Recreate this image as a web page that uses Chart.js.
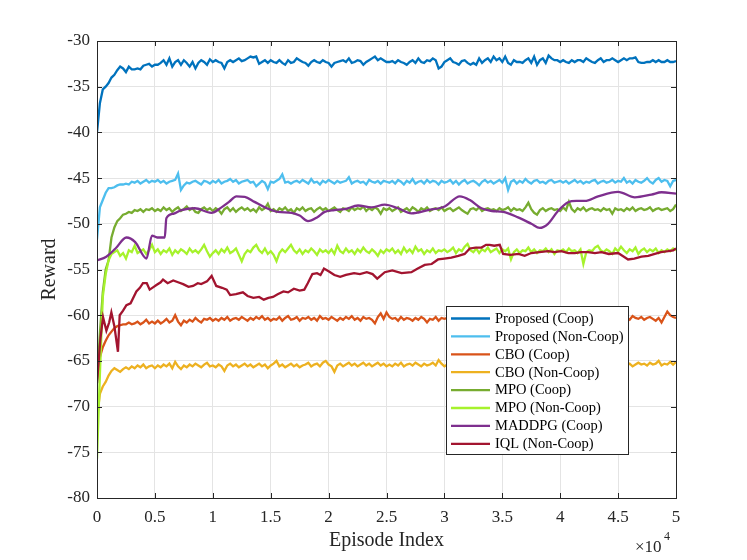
<!DOCTYPE html>
<html>
<head>
<meta charset="utf-8">
<script src="https://cdn.jsdelivr.net/npm/chart.js@4.4.1/dist/chart.umd.min.js"></script>
<style>
  html, body { margin: 0; padding: 0; background: #fff; }
  #wrap { position: relative; width: 747px; height: 560px; }
</style>
</head>
<body>
<div id="wrap"><canvas id="reward-chart"></canvas></div>
<script>
// episode grid shared by the noisy curves (every 250 episodes)
const episodes = [
  0,250,500,750,1000,1250,1500,1750,2000,2250,2500,2750,3000,3250,3500,3750,4000,4250,4500,4750,5000,
  5250,5500,5750,6000,6250,6500,6750,7000,7250,7500,7750,8000,8250,8500,8750,9000,9250,9500,9750,10000,
  10250,10500,10750,11000,11250,11500,11750,12000,12250,12500,12750,13000,13250,13500,13750,14000,14250,14500,14750,15000,
  15250,15500,15750,16000,16250,16500,16750,17000,17250,17500,17750,18000,18250,18500,18750,19000,19250,19500,19750,20000,
  20250,20500,20750,21000,21250,21500,21750,22000,22250,22500,22750,23000,23250,23500,23750,24000,24250,24500,24750,25000,
  25250,25500,25750,26000,26250,26500,26750,27000,27250,27500,27750,28000,28250,28500,28750,29000,29250,29500,29750,30000,
  30250,30500,30750,31000,31250,31500,31750,32000,32250,32500,32750,33000,33250,33500,33750,34000,34250,34500,34750,35000,
  35250,35500,35750,36000,36250,36500,36750,37000,37250,37500,37750,38000,38250,38500,38750,39000,39250,39500,39750,40000,
  40250,40500,40750,41000,41250,41500,41750,42000,42250,42500,42750,43000,43250,43500,43750,44000,44250,44500,44750,45000,
  45250,45500,45750,46000,46250,46500,46750,47000,47250,47500,47750,48000,48250,48500,48750,49000,49250,49500,49750,50000
];

const proposedCoop = [
  -40.0,-36.8,-35.3,-35.0,-34.6,-34.0,-33.7,-33.2,-32.8,-33.0,-33.4,-32.8,-33.1,-33.1,-33.0,-33.1,-32.7,-32.6,-32.5,-32.8,-32.6,
  -32.6,-32.4,-32.1,-32.6,-31.9,-32.8,-32.3,-32.1,-32.6,-32.1,-32.4,-32.8,-32.3,-33.0,-32.4,-32.1,-32.3,-32.6,-32.0,-32.3,
  -32.1,-32.3,-32.4,-33.0,-32.3,-32.1,-32.3,-32.1,-31.9,-32.2,-32.1,-31.9,-31.7,-31.8,-31.7,-32.5,-32.3,-32.1,-32.4,-32.1,
  -32.3,-32.4,-32.1,-32.4,-32.6,-32.1,-32.4,-32.3,-31.9,-32.1,-32.3,-32.4,-32.7,-32.3,-32.1,-32.3,-32.4,-32.1,-32.3,-32.4,
  -32.8,-32.4,-32.3,-32.2,-32.1,-32.3,-31.9,-32.4,-32.3,-32.1,-32.2,-32.6,-32.3,-32.1,-31.9,-31.7,-32.1,-31.9,-32.1,-32.3,
  -32.3,-32.2,-32.4,-32.1,-32.3,-32.4,-32.6,-32.3,-32.1,-32.4,-31.9,-32.3,-32.4,-32.1,-32.2,-31.9,-32.1,-33.0,-32.8,-32.3,
  -32.1,-31.9,-32.3,-32.4,-32.6,-32.2,-32.1,-32.4,-32.6,-32.4,-32.6,-31.9,-32.4,-32.1,-31.9,-32.3,-31.7,-32.1,-31.9,-32.3,
  -31.7,-32.4,-32.6,-32.1,-32.3,-32.3,-32.4,-32.1,-31.9,-32.4,-31.7,-32.6,-32.1,-31.9,-32.4,-31.6,-31.9,-32.1,-32.1,-32.3,
  -32.1,-32.3,-32.4,-32.1,-32.3,-32.1,-32.1,-32.3,-31.9,-32.1,-32.3,-32.4,-32.1,-31.9,-32.3,-32.1,-32.1,-31.9,-32.1,-32.3,
  -32.1,-31.9,-32.1,-31.9,-31.9,-31.8,-32.3,-32.4,-32.4,-32.3,-32.3,-32.1,-32.3,-32.1,-32.3,-32.3,-32.1,-32.3,-32.3,-32.2
];

const proposedNonCoop = [
  -51.7,-48.2,-47.4,-46.6,-46.1,-46.1,-46.0,-45.8,-45.7,-45.7,-45.6,-45.7,-45.4,-45.5,-45.3,-45.6,-45.4,-45.2,-45.5,-45.3,-45.4,
  -45.2,-45.5,-45.3,-45.6,-45.4,-45.3,-45.2,-44.5,-46.3,-45.8,-45.5,-45.6,-45.4,-45.3,-45.5,-45.7,-45.3,-45.4,-45.6,-45.3,
  -45.5,-45.2,-45.6,-45.4,-45.3,-45.1,-45.4,-45.2,-45.6,-45.4,-45.3,-45.2,-45.5,-45.4,-45.9,-45.6,-45.3,-45.5,-46.2,-45.4,
  -45.5,-45.3,-45.1,-44.6,-45.5,-45.4,-45.6,-45.4,-45.3,-45.5,-45.2,-45.4,-45.6,-45.1,-45.5,-45.4,-45.7,-45.3,-45.5,-45.2,
  -45.4,-45.6,-45.3,-45.5,-45.4,-45.3,-44.9,-45.6,-45.4,-45.3,-45.5,-45.4,-45.7,-45.2,-45.4,-45.5,-45.3,-45.6,-45.3,-45.4,
  -45.5,-45.3,-45.6,-45.2,-45.4,-45.7,-45.3,-45.5,-45.1,-45.6,-45.4,-45.3,-45.6,-45.2,-45.5,-45.3,-45.4,-45.7,-45.3,-45.5,
  -45.4,-45.2,-45.6,-45.3,-45.7,-45.4,-45.2,-45.6,-45.4,-45.3,-45.5,-45.8,-45.4,-45.2,-45.5,-45.3,-45.6,-45.4,-45.2,-45.5,
  -45.0,-46.3,-45.4,-45.2,-45.6,-45.3,-45.5,-45.1,-45.4,-45.6,-45.3,-45.2,-45.5,-45.4,-45.6,-45.3,-45.2,-45.5,-45.4,-45.3,
  -45.5,-45.3,-45.6,-45.4,-45.2,-45.5,-45.3,-45.6,-45.4,-45.5,-45.3,-45.2,-45.6,-45.4,-45.3,-45.5,-45.4,-45.2,-45.5,-45.3,
  -45.4,-45.0,-45.5,-45.3,-45.6,-45.2,-45.4,-45.5,-45.3,-45.0,-45.4,-45.6,-45.2,-45.0,-45.4,-45.2,-45.3,-45.9,-45.3,-45.2
];

const cboCoop = [
  -67.0,-64.6,-63.5,-62.8,-62.2,-61.8,-61.4,-61.2,-61.1,-61.0,-61.0,-60.8,-61.0,-60.9,-60.7,-61.0,-60.8,-60.5,-60.9,-60.7,-60.9,
  -60.6,-60.9,-60.7,-60.4,-60.8,-60.6,-60.0,-60.7,-61.1,-60.6,-60.8,-60.5,-60.7,-60.3,-60.6,-60.8,-60.4,-60.5,-60.3,-60.6,
  -60.4,-60.6,-60.3,-60.5,-60.2,-60.6,-60.4,-60.3,-60.5,-60.2,-60.4,-60.6,-60.3,-60.5,-60.2,-60.4,-60.1,-60.5,-60.3,-60.6,
  -60.4,-60.5,-60.2,-60.6,-60.3,-60.1,-60.5,-60.4,-60.2,-60.6,-60.3,-60.4,-60.2,-60.5,-60.3,-60.6,-60.1,-60.4,-60.3,-60.5,
  -60.2,-60.4,-60.6,-60.3,-60.5,-60.2,-60.4,-60.1,-60.5,-60.3,-60.6,-60.2,-60.4,-60.3,-60.5,-60.9,-60.2,-59.8,-60.4,-59.7,
  -60.2,-60.4,-60.3,-60.6,-60.2,-60.5,-60.3,-60.4,-60.6,-60.3,-60.5,-60.2,-60.4,-60.8,-60.4,-60.5,-60.2,-60.6,-60.3,-60.4,
  -60.3,-60.5,-60.2,-60.4,-60.3,-60.6,-60.2,-60.4,-60.5,-60.3,-60.2,-60.4,-60.6,-60.3,-60.4,-60.2,-60.5,-60.3,-60.4,-60.2,
  -60.4,-60.3,-60.5,-60.2,-60.4,-60.6,-60.3,-60.4,-60.2,-60.5,-60.3,-60.4,-60.2,-60.5,-60.3,-60.4,-60.6,-60.2,-60.4,-60.3,
  -60.5,-60.2,-60.4,-60.3,-60.5,-60.2,-60.4,-60.6,-60.3,-60.4,-60.2,-60.5,-60.3,-60.4,-60.2,-60.5,-60.3,-60.4,-60.2,-60.3,
  -60.2,-60.4,-60.3,-60.5,-60.1,-60.3,-60.4,-60.2,-60.5,-60.3,-60.2,-60.4,-60.6,-60.3,-60.8,-60.2,-59.6,-60.0,-60.2,-60.3
];

const cboNonCoop = [
  -71.3,-68.6,-67.8,-67.3,-66.6,-66.1,-65.8,-66.0,-66.2,-65.9,-65.7,-65.9,-65.6,-65.8,-65.5,-65.7,-65.4,-65.8,-65.6,-65.5,-65.8,
  -65.5,-65.7,-65.4,-65.6,-65.3,-65.8,-65.1,-65.6,-65.9,-65.5,-65.7,-65.4,-65.6,-65.3,-65.5,-65.7,-65.4,-65.2,-65.6,-65.5,
  -65.7,-65.4,-65.6,-66.1,-65.5,-65.3,-65.6,-65.4,-65.7,-65.5,-65.3,-65.6,-65.4,-65.7,-65.5,-65.3,-65.6,-65.4,-65.8,-65.5,
  -65.3,-65.0,-65.6,-65.4,-65.7,-65.5,-65.3,-65.6,-65.4,-65.7,-65.5,-65.4,-65.2,-65.6,-65.4,-65.3,-65.6,-65.2,-65.0,-65.4,
  -65.6,-66.2,-65.5,-65.3,-65.6,-65.4,-65.2,-65.5,-65.3,-65.6,-65.4,-65.2,-65.5,-65.3,-65.6,-65.4,-65.2,-65.5,-65.3,-65.6,
  -65.4,-65.6,-65.3,-65.5,-65.2,-65.6,-65.4,-65.3,-65.5,-65.2,-65.4,-65.6,-65.3,-65.5,-65.4,-65.2,-65.5,-64.9,-65.3,-65.6,
  -65.4,-65.2,-65.5,-65.3,-65.6,-65.4,-65.3,-65.5,-65.2,-65.4,-65.6,-65.3,-65.5,-65.4,-65.2,-65.5,-65.3,-65.6,-65.4,-65.3,
  -65.5,-65.2,-65.4,-65.6,-65.3,-65.5,-65.4,-65.2,-65.5,-65.3,-65.6,-65.4,-65.3,-65.5,-65.2,-65.4,-65.6,-65.3,-65.5,-65.4,
  -65.2,-65.5,-65.3,-65.6,-65.4,-65.3,-65.5,-65.2,-65.4,-65.6,-65.3,-65.5,-65.4,-65.2,-65.5,-65.3,-65.6,-65.4,-65.3,-65.5,
  -65.4,-65.2,-65.5,-65.3,-65.6,-65.4,-65.2,-65.4,-65.3,-65.5,-65.2,-65.4,-65.3,-65.0,-65.5,-65.3,-65.4,-65.1,-65.4,-65.1
];

const mpoCoop = [
  -67.5,-62.0,-57.5,-55.0,-54.0,-51.5,-50.4,-49.7,-49.4,-49.0,-48.9,-48.7,-48.8,-48.5,-48.6,-48.4,-48.7,-48.4,-48.5,-48.3,-48.6,
  -48.4,-48.6,-48.2,-48.5,-48.3,-48.7,-48.4,-48.2,-48.6,-48.4,-48.1,-48.5,-48.3,-48.7,-48.8,-48.4,-48.2,-48.5,-48.3,-48.6,
  -48.3,-48.5,-48.9,-48.4,-48.2,-48.6,-48.3,-48.7,-48.4,-48.2,-48.5,-48.3,-48.6,-48.4,-48.7,-48.2,-48.5,-48.3,-47.8,-48.6,
  -48.4,-48.7,-48.3,-48.5,-48.2,-48.6,-48.4,-48.8,-48.3,-48.5,-48.2,-48.6,-48.4,-48.3,-48.7,-48.4,-48.2,-48.5,-48.3,-48.6,
  -48.4,-48.2,-48.5,-48.7,-48.3,-48.4,-48.6,-48.2,-48.5,-48.3,-48.4,-48.1,-48.6,-48.3,-48.5,-48.2,-48.4,-48.9,-48.3,-48.5,
  -48.3,-48.6,-48.4,-48.2,-48.7,-48.5,-48.3,-48.6,-48.2,-48.4,-48.7,-48.3,-48.5,-48.2,-48.6,-48.4,-48.3,-48.5,-48.2,-48.6,
  -48.4,-48.3,-48.6,-48.4,-48.2,-48.5,-48.7,-48.9,-48.4,-48.3,-48.5,-48.2,-48.6,-48.4,-48.3,-48.5,-48.4,-48.6,-48.3,-48.5,
  -48.4,-48.2,-48.6,-48.3,-48.5,-48.4,-48.6,-48.2,-47.7,-48.4,-48.8,-49.0,-48.5,-48.3,-48.6,-48.4,-48.3,-48.5,-48.4,-48.6,
  -48.2,-48.5,-47.6,-48.4,-48.7,-48.3,-48.5,-48.2,-48.6,-48.4,-48.3,-48.5,-48.4,-48.6,-48.3,-48.5,-48.4,-48.9,-48.3,-48.5,
  -48.4,-48.6,-48.3,-48.5,-48.2,-48.6,-48.4,-48.3,-48.5,-48.4,-48.2,-48.6,-48.4,-48.3,-48.5,-48.4,-48.3,-48.6,-48.4,-47.9
];

const mpoNonCoop = [
  -75.7,-66.5,-58.0,-55.5,-54.0,-53.3,-53.1,-52.9,-53.5,-53.2,-53.8,-52.9,-53.1,-52.4,-53.2,-53.0,-52.8,-53.3,-52.9,-52.3,-53.1,
  -52.8,-53.3,-52.9,-53.1,-52.7,-53.4,-52.9,-53.2,-52.8,-53.0,-53.3,-52.7,-53.1,-52.9,-53.2,-52.8,-52.3,-53.0,-53.6,-53.2,
  -52.9,-53.3,-52.8,-53.1,-52.6,-53.2,-53.0,-52.7,-53.4,-54.1,-53.3,-52.9,-53.1,-52.6,-52.3,-52.9,-53.2,-52.7,-53.3,-53.0,
  -53.4,-54.1,-53.2,-52.8,-53.1,-52.7,-52.3,-52.9,-53.2,-52.8,-53.3,-52.9,-53.1,-52.7,-53.0,-53.4,-52.8,-53.1,-52.9,-53.2,
  -52.8,-53.3,-52.4,-53.0,-53.2,-52.7,-53.1,-52.9,-53.3,-52.8,-53.1,-52.6,-53.0,-53.2,-52.8,-53.1,-53.5,-52.9,-53.2,-52.8,
  -53.0,-52.7,-53.2,-52.9,-53.3,-52.6,-53.1,-52.8,-53.2,-52.5,-53.0,-52.8,-53.3,-52.9,-53.1,-52.7,-53.2,-52.9,-53.0,-52.8,
  -53.1,-52.9,-52.6,-53.2,-52.8,-53.0,-52.5,-52.2,-52.9,-53.1,-52.7,-53.2,-52.8,-53.0,-52.6,-53.1,-52.9,-52.7,-53.2,-52.8,
  -53.0,-52.7,-53.9,-53.1,-52.8,-53.2,-52.9,-53.0,-52.6,-53.1,-52.8,-53.2,-52.9,-53.0,-52.7,-53.1,-52.8,-53.3,-52.9,-53.0,
  -52.8,-53.1,-52.7,-53.0,-52.9,-53.2,-52.8,-54.4,-53.1,-52.9,-53.0,-52.6,-52.4,-52.9,-53.1,-52.8,-53.0,-53.3,-52.7,-53.0,
  -52.5,-52.9,-53.2,-52.8,-53.0,-52.6,-53.3,-52.9,-52.7,-53.1,-52.8,-53.0,-52.7,-53.2,-52.9,-53.1,-52.8,-53.0,-52.7,-52.9
];

// MADDPG is a smooth curve, read at its turning points
const maddpgEpisodes = [
  0,800,1600,2540,3300,4270,4750,5200,5850,5990,6600,7290,8440,9880,10750,11400,12040,12760,13600,14500,
  15640,16800,17500,18220,19000,19660,20500,21390,22540,23700,24850,26000,27150,28590,30030,31330,32200,33200,34100,35070,
  36360,37510,38230,38950,39810,40680,41400,42120,43270,45000,46440,47880,48750,50000
];
const maddpgCoop = [
  -54.0,-53.6,-52.7,-51.5,-52.0,-53.8,-51.3,-51.5,-51.5,-49.4,-48.9,-48.5,-48.3,-48.8,-48.2,-47.6,-47.0,-47.05,-47.6,-48.2,
  -48.7,-48.8,-49.1,-49.7,-49.3,-48.7,-48.5,-48.4,-48.0,-48.2,-47.9,-48.3,-48.85,-48.5,-48.1,-47.0,-47.4,-48.3,-48.6,-48.7,
  -49.3,-50.0,-50.45,-50.0,-48.6,-47.65,-47.5,-47.5,-47.0,-46.5,-47.1,-46.8,-46.55,-46.7
];

// IQL moves in small steps, read at each step
const iqlEpisodes = [
  0,300,520,810,1050,1240,1500,1810,1960,2250,2540,2900,3400,3700,3970,4300,4550,4900,5130,5500,
  5700,6100,6580,7000,7440,7900,8300,8700,9000,9500,9900,10300,10800,11200,11500,12000,12600,13000,13500,14000,
  14400,14800,15200,15600,16100,16500,17000,17500,17900,18200,18600,19000,19300,19600,20000,20500,21000,21500,22200,22700,
  23300,23800,24200,24850,25500,26300,27150,27700,28300,28900,29450,30000,30600,31200,31750,32190,32700,33200,33600,33900,
  34300,34780,35070,35700,36400,36930,37500,38200,38950,39500,40100,40700,41260,41800,42410,43000,43560,44200,45000,45500,
  45860,46400,47020,47600,48170,48700,49320,49760,50000
];
const iqlNonCoop = [
  -67.4,-62.5,-60.2,-61.7,-60.8,-59.7,-61.2,-64.0,-60.0,-59.5,-58.9,-58.7,-57.4,-57.0,-56.5,-56.5,-57.2,-56.9,-56.7,-56.4,
  -56.1,-56.5,-56.2,-56.4,-56.6,-56.9,-56.8,-56.5,-56.6,-56.3,-55.7,-56.8,-57.0,-57.2,-57.8,-57.7,-57.5,-57.9,-58.1,-58.0,
  -58.3,-58.1,-58.0,-57.7,-57.4,-57.5,-57.1,-57.3,-57.2,-56.5,-55.5,-55.4,-55.6,-54.9,-55.2,-55.6,-55.8,-55.6,-55.4,-55.5,
  -55.3,-55.5,-56.0,-55.3,-55.1,-55.4,-55.3,-54.9,-54.5,-54.4,-53.9,-53.8,-53.7,-53.5,-53.3,-52.7,-52.6,-52.6,-52.3,-52.3,
  -52.4,-52.3,-53.3,-53.4,-53.3,-53.5,-53.2,-53.1,-53.0,-53.1,-53.0,-53.2,-53.2,-53.1,-53.1,-53.2,-53.1,-53.3,-53.2,-53.6,
  -53.9,-53.8,-53.6,-53.5,-53.3,-53.1,-53.0,-52.9,-52.7
];

const xTicks = [0, 5000, 10000, 15000, 20000, 25000, 30000, 35000, 40000, 45000, 50000];
const yTicks = [-80, -75, -70, -65, -60, -55, -50, -45, -40, -35, -30];

const seriesNames = [
  'Proposed (Coop)', 'Proposed (Non-Coop)', 'CBO (Coop)', 'CBO (Non-Coop)',
  'MPO (Coop)', 'MPO (Non-Coop)', 'MADDPG (Coop)', 'IQL (Non-Coop)'
];
const seriesColors = ['#0072BD', '#4DBEEE', '#D95319', '#EDB120', '#77AC30', '#A6F22C', '#7E2F8E', '#A2142F'];

const AXIS_COLOR = '#262626';
const SERIF = '"Liberation Serif", "Times New Roman", serif';

function pairs(xs, ys) {
  return xs.map((x, i) => ({ x, y: ys[i] }));
}

const seriesData = [
  pairs(episodes, proposedCoop),
  pairs(episodes, proposedNonCoop),
  pairs(episodes, cboCoop),
  pairs(episodes, cboNonCoop),
  pairs(episodes, mpoCoop),
  pairs(episodes, mpoNonCoop),
  pairs(maddpgEpisodes, maddpgCoop),
  pairs(iqlEpisodes, iqlNonCoop),
];

// box round the axes with small inward ticks, like the MATLAB figure
const axesBox = {
  id: 'axesBox',
  afterDatasetsDraw(chart) {
    const { ctx, chartArea: a, scales: { x, y } } = chart;
    ctx.save();
    ctx.strokeStyle = AXIS_COLOR;
    ctx.lineWidth = 1;
    ctx.beginPath();
    for (const v of xTicks) {
      const px = Math.round(x.getPixelForValue(v)) + 0.5;
      ctx.moveTo(px, a.bottom); ctx.lineTo(px, a.bottom - 5);
      ctx.moveTo(px, a.top); ctx.lineTo(px, a.top + 5);
    }
    for (const v of yTicks) {
      const py = Math.round(y.getPixelForValue(v)) + 0.5;
      ctx.moveTo(a.left, py); ctx.lineTo(a.left + 5, py);
      ctx.moveTo(a.right, py); ctx.lineTo(a.right - 5, py);
    }
    ctx.stroke();
    ctx.strokeRect(Math.round(a.left) + 0.5, Math.round(a.top) + 0.5,
      Math.round(a.width), Math.round(a.height));
    ctx.restore();
  },
};

// legend box inside the axes, plus the x10^4 exponent label
const boxLegend = {
  id: 'boxLegend',
  afterDraw(chart) {
    const { ctx, chartArea: a } = chart;
    const left = a.right - 230, top = a.top + 265, w = 182, h = 148;
    ctx.save();
    ctx.fillStyle = '#fff';
    ctx.fillRect(left, top, w, h);
    ctx.strokeStyle = AXIS_COLOR;
    ctx.lineWidth = 1;
    ctx.strokeRect(left + 0.5, top + 0.5, w, h);
    ctx.font = `14.5px ${SERIF}`;
    ctx.textBaseline = 'middle';
    ctx.textAlign = 'left';
    chart.data.datasets.forEach((ds, i) => {
      const ry = top + 12.5 + i * 17.9;
      ctx.strokeStyle = ds.borderColor;
      ctx.lineWidth = 2.3;
      ctx.beginPath();
      ctx.moveTo(left + 5, ry); ctx.lineTo(left + 44, ry);
      ctx.stroke();
      ctx.fillStyle = '#000';
      ctx.fillText(ds.label, left + 49, ry + 0.5);
    });

    ctx.fillStyle = AXIS_COLOR;
    ctx.font = `17px ${SERIF}`;
    ctx.textAlign = 'left';
    ctx.textBaseline = 'alphabetic';
    ctx.fillText('×10', a.right - 41, 552);
    ctx.font = `12px ${SERIF}`;
    ctx.fillText('4', a.right - 12, 540);
    ctx.restore();
  },
};

new Chart(document.getElementById('reward-chart'), {
  type: 'line',
  data: {
    datasets: seriesNames.map((name, i) => ({
      label: name,
      data: seriesData[i],
      borderColor: seriesColors[i],
      backgroundColor: seriesColors[i],
      borderWidth: 2.3,
      pointRadius: 0,
      tension: 0,
      cubicInterpolationMode: i === 6 ? 'monotone' : 'default',
      fill: false,
      order: seriesNames.length - i,
    })),
  },
  options: {
    responsive: true,
    maintainAspectRatio: false,
    animation: false,
    layout: { padding: { top: 41, right: 71, left: 0, bottom: 0 } },
    plugins: {
      legend: { display: false },
      tooltip: { enabled: false },
    },
    scales: {
      x: {
        type: 'linear',
        min: 0,
        max: 50000,
        afterFit: (s) => { s.height = 62; },
        afterBuildTicks: (s) => { s.ticks = xTicks.map(v => ({ value: v })); },
        ticks: {
          padding: 9,
          maxRotation: 0,
          autoSkip: false,
          color: AXIS_COLOR,
          font: { family: SERIF, size: 17 },
          callback: (v) => String(v / 10000),
        },
        grid: { color: '#e4e4e4', drawTicks: false },
        border: { display: false },
        title: {
          display: true,
          text: 'Episode Index',
          color: AXIS_COLOR,
          font: { family: SERIF, size: 20 },
          padding: { top: 0, bottom: 7 },
        },
      },
      y: {
        min: -80,
        max: -30,
        afterFit: (s) => { s.width = 97; },
        afterBuildTicks: (s) => { s.ticks = yTicks.map(v => ({ value: v })); },
        ticks: {
          padding: 7,
          color: AXIS_COLOR,
          font: { family: SERIF, size: 17 },
        },
        grid: { color: '#e4e4e4', drawTicks: false },
        border: { display: false },
        title: {
          display: true,
          text: 'Reward',
          color: AXIS_COLOR,
          font: { family: SERIF, size: 20 },
          padding: { top: 38, bottom: 0 },
        },
      },
    },
  },
  plugins: [axesBox, boxLegend],
});
</script>
</body>
</html>
